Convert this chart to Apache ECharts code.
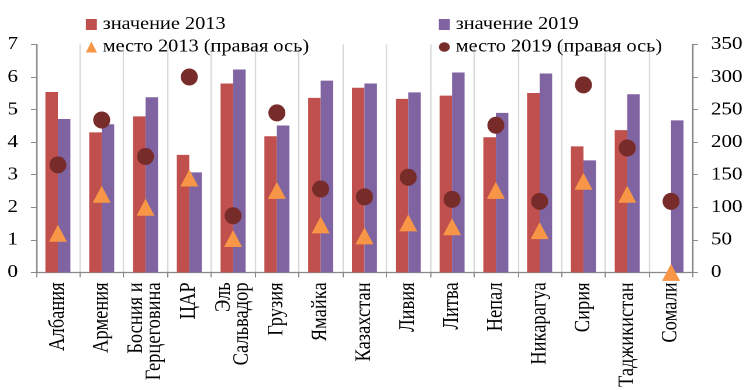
<!DOCTYPE html>
<html>
<head>
<meta charset="utf-8">
<script src="https://cdn.jsdelivr.net/npm/echarts@6/dist/echarts.min.js"></script>
<style>
html,body{margin:0;padding:0;background:#fff;overflow:hidden;}
#c{width:638px;height:390px;transform:scaleX(1.16928);transform-origin:0 0;}
</style>
</head>
<body>
<div id="c"></div>
<script>
const categories = ["Албания","Армения","Босния и\nГерцеговина","ЦАР","Эль\nСальвадор","Грузия","Ямайка","Казахстан","Ливия","Литва","Непал","Никарагуа","Сирия","Таджикистан","Сомали"];
const value2013 = [5.54,4.30,4.79,3.61,5.80,4.18,5.36,5.67,5.33,5.43,4.15,5.51,3.87,4.37,null];
const value2019 = [4.71,4.55,5.38,3.07,6.23,4.51,5.89,5.80,5.53,6.14,4.90,6.11,3.44,5.47,4.67];
const rank2013 = [60,120,100,145,52,126,73,56,76,70,126,64,140,120,0];
const rank2019 = [165,234,178,300,87,245,128,116,146,112,226,109,288,191,109];
const leftTicks = {min:0, max:7, interval:1};
const rightTicks = {min:0, max:350, interval:50};

// the reference text is horizontally stretched; the whole chart is drawn narrower and stretched by CSS
const S = 746 / 638;
const FONT = '"Liberation Serif","Times New Roman",serif';
const axisGray = '#898989';
const chart = echarts.init(document.getElementById('c'), null, {renderer:'canvas', devicePixelRatio:2});
const legendText = {fontFamily:FONT, fontSize:17.4, color:'#000'};
chart.setOption({
  animation:false,
  backgroundColor:'#fff',
  legend:[
    {left:80/S, top:11, orient:'vertical', itemWidth:11/S, itemHeight:11, itemGap:5.5, textStyle:legendText,
     data:[{name:'значение 2013', icon:'rect'},{name:'место 2013 (правая ось)', icon:'triangle'}]},
    {left:433/S, top:11, orient:'vertical', itemWidth:11/S, itemHeight:11, itemGap:5.5, textStyle:legendText,
     data:[{name:'значение 2019', icon:'rect'},{name:'место 2019 (правая ось)', icon:'circle'}]}
  ],
  grid:{left:36/S, right:51/S, top:44.5, bottom:117, containLabel:false},
  xAxis:{
    type:'category', data:categories, boundaryGap:true,
    axisLine:{lineStyle:{color:axisGray, width:1.3}},
    axisTick:{show:true, length:5, lineStyle:{color:axisGray}},
    splitLine:{show:true, lineStyle:{color:'#d9d9d9', width:1.2}},
    axisLabel:{interval:0, rotate:90, margin:10, fontFamily:FONT, fontSize:18.5, lineHeight:18/S, color:'#000'}
  },
  yAxis:[
    {type:'value', min:leftTicks.min, max:leftTicks.max, interval:leftTicks.interval,
     axisLine:{show:true, lineStyle:{color:axisGray, width:1.3}},
     axisTick:{show:true, length:5/S, lineStyle:{color:axisGray}},
     splitLine:{show:false},
     axisLabel:{margin:18/S, fontFamily:FONT, fontSize:18, color:'#000'}},
    {type:'value', position:'right', min:rightTicks.min, max:rightTicks.max, interval:rightTicks.interval,
     axisLine:{show:true, lineStyle:{color:axisGray, width:1.3}},
     axisTick:{show:true, length:5/S, lineStyle:{color:axisGray}},
     splitLine:{show:false},
     axisLabel:{margin:18/S, fontFamily:FONT, fontSize:18, color:'#000'}}
  ],
  series:[
    {name:'значение 2013', type:'bar', yAxisIndex:0, data:value2013, barWidth:12.5/S, barGap:'0%',
     itemStyle:{color:'#C0504D'}},
    {name:'значение 2019', type:'bar', yAxisIndex:0, data:value2019, barWidth:12.5/S, barGap:'0%',
     itemStyle:{color:'#8064A2'}},
    {name:'место 2013 (правая ось)', type:'scatter', yAxisIndex:1, data:rank2013, symbol:'triangle', symbolSize:[18/S,17],
     itemStyle:{color:'#F79646', opacity:1}, z:5},
    {name:'место 2019 (правая ось)', type:'scatter', yAxisIndex:1, data:rank2019, symbol:'circle', symbolSize:[17/S,17],
     itemStyle:{color:'#772C2A', opacity:1}, z:6}
  ]
});
</script>
</body>
</html>
